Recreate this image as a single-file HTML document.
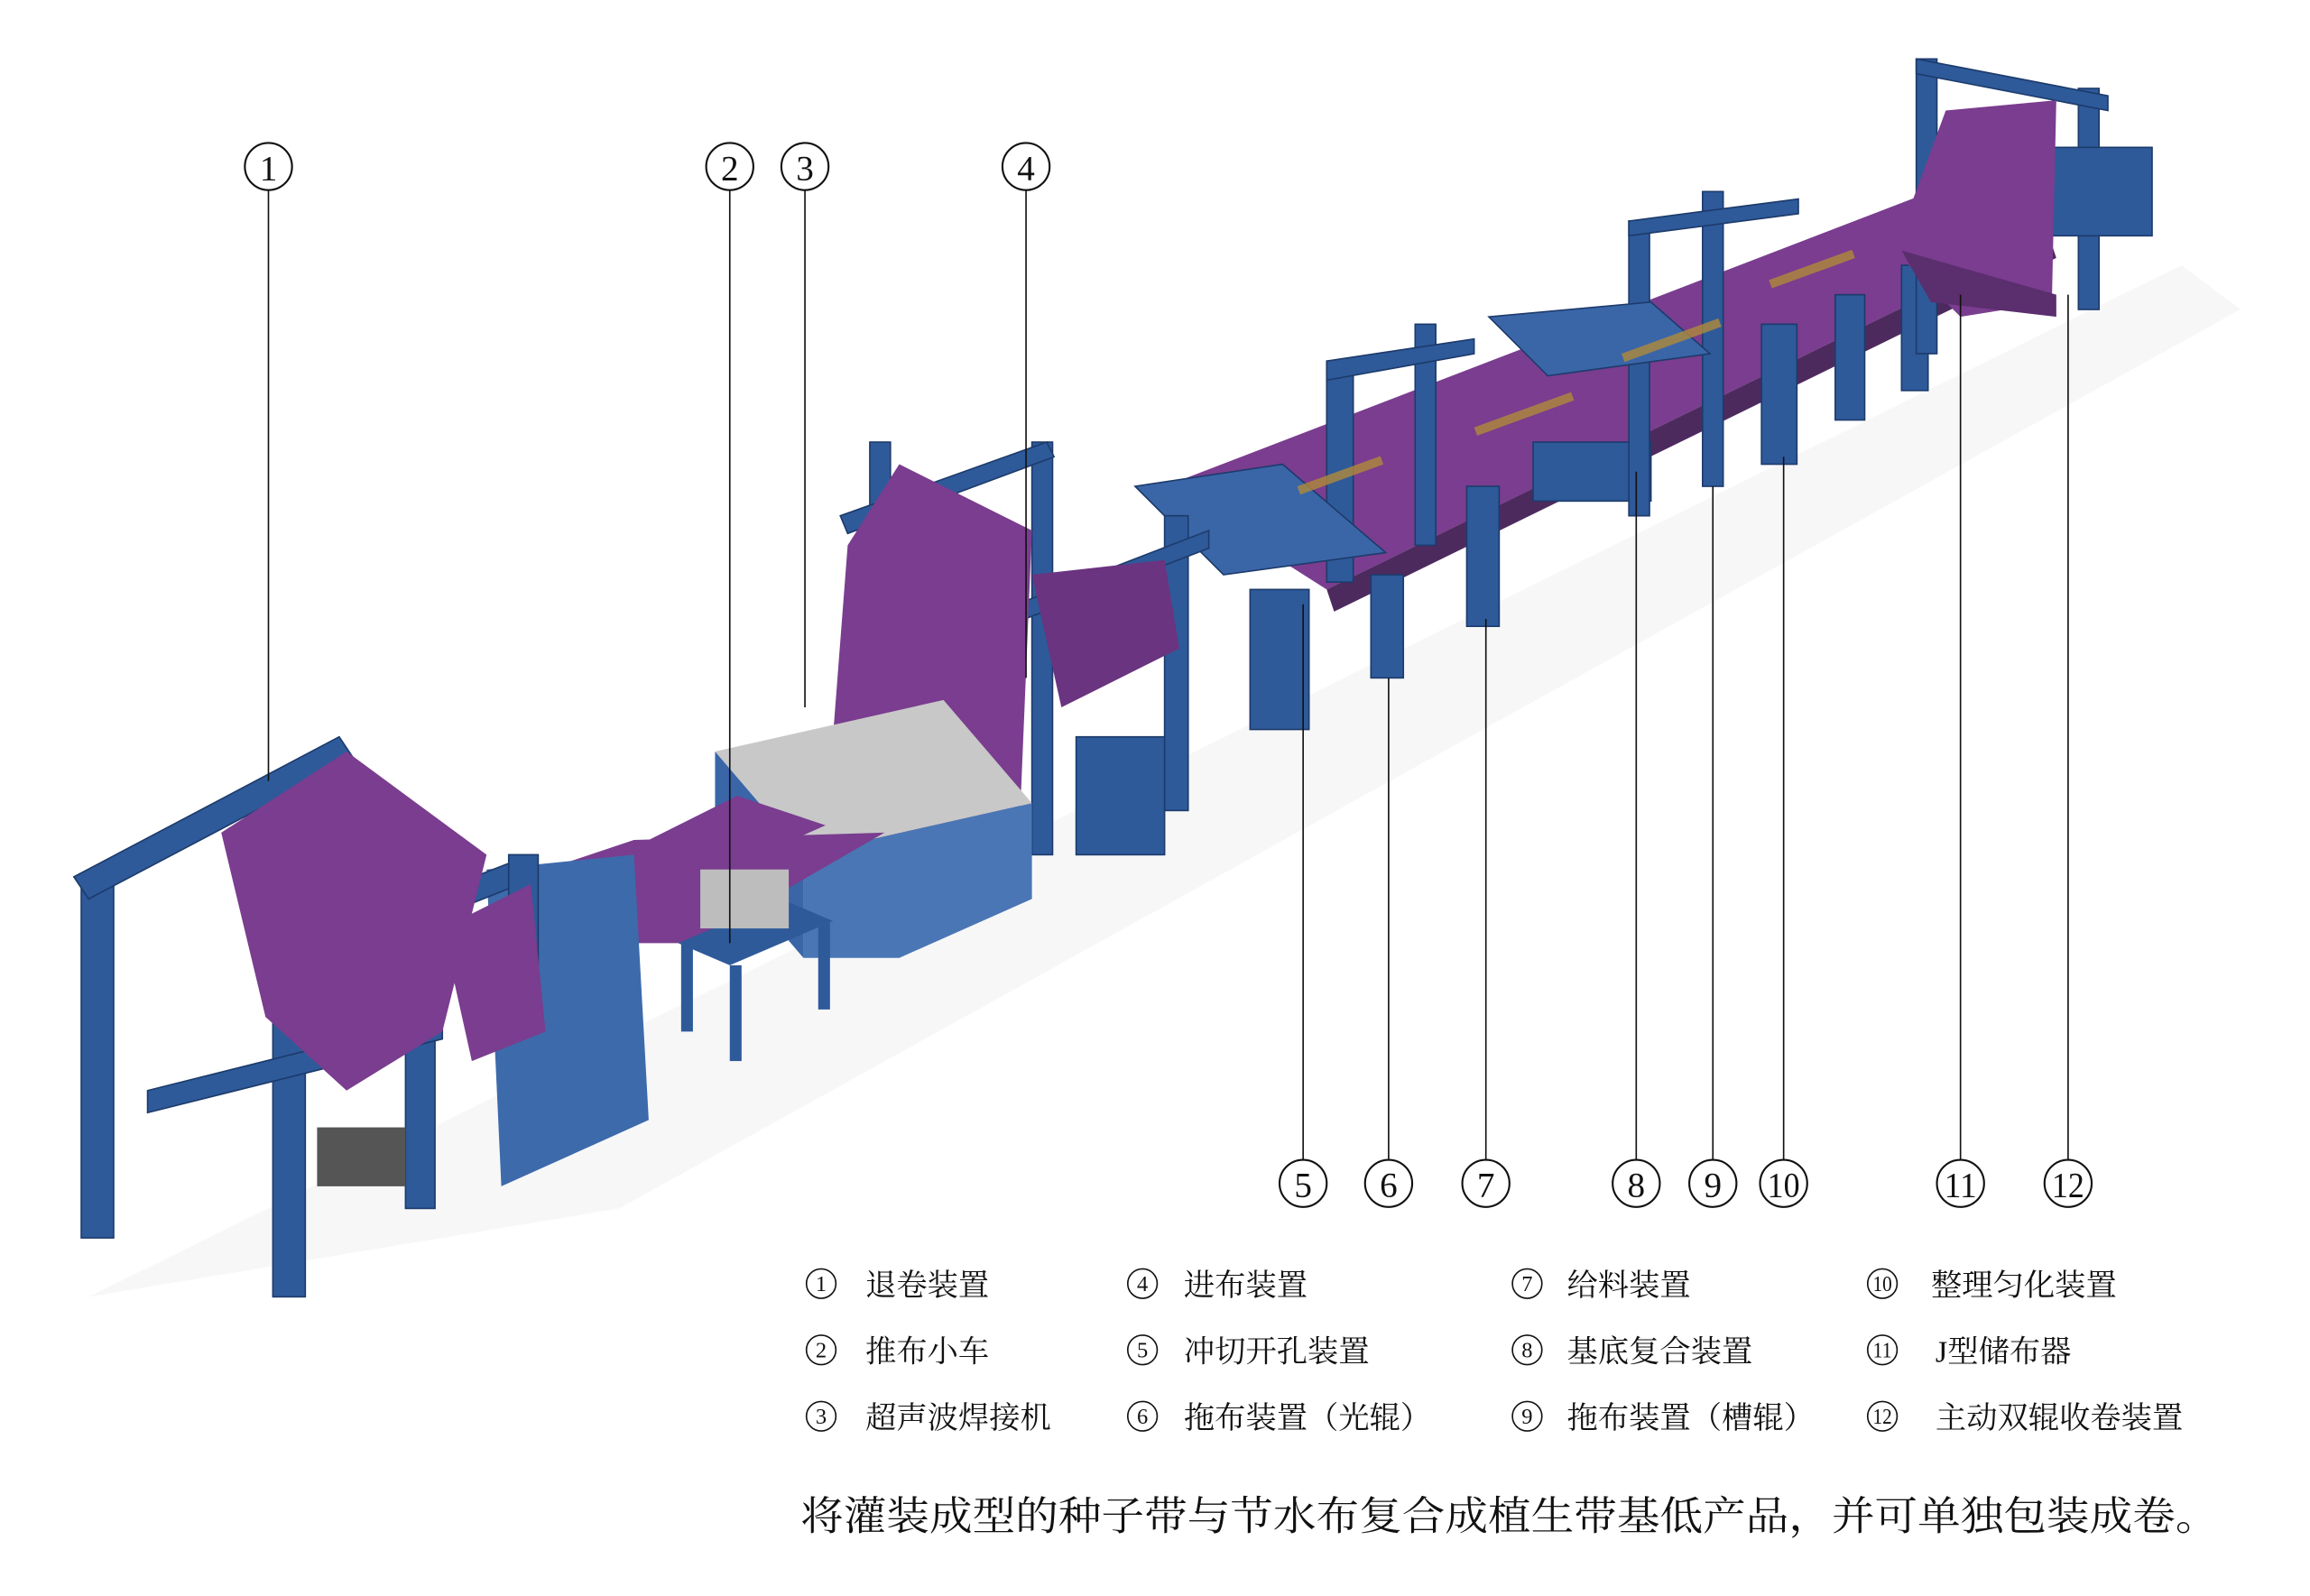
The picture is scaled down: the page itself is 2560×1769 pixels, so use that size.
<!DOCTYPE html>
<html><head><meta charset="utf-8"><style>
html,body{margin:0;padding:0;background:#fff}
svg{display:block}
text{font-family:"Liberation Serif","Noto Serif CJK SC",serif;fill:#111}
</style></head><body>
<svg width="2560" height="1769" viewBox="0 0 1567 1083" xmlns="http://www.w3.org/2000/svg">
<rect width="1567" height="1083" fill="#fff"/>
<polygon points="60,880 1480,180 1520,210 420,820" fill="#f7f7f8"/>
<polygon points="790,330 1310,130 1390,160 900,400" fill="#7a3d8f"/>
<polygon points="900,400 1390,160 1395,175 905,415" fill="#4d2a5e"/>
<g fill="#2e5a9a" stroke="#1d3b6b" stroke-width="1">
<rect x="848" y="400" width="40" height="95"/>
<rect x="930" y="390" width="22" height="70"/>
<rect x="900" y="245" width="18" height="150"/>
<rect x="960" y="220" width="14" height="150"/>
<rect x="995" y="330" width="22" height="95"/>
<rect x="1040" y="300" width="80" height="40"/>
<rect x="1105" y="150" width="14" height="200"/>
<rect x="1155" y="130" width="14" height="200"/>
<rect x="1195" y="220" width="24" height="95"/>
<rect x="1245" y="200" width="20" height="85"/>
<rect x="1290" y="180" width="18" height="85"/>
<polygon points="900,245 1000,230 1000,240 900,258"/>
<polygon points="1105,150 1220,135 1220,145 1105,160"/>
<rect x="1300" y="40" width="14" height="200"/>
<rect x="1410" y="60" width="14" height="150"/>
<polygon points="1300,40 1430,65 1430,75 1300,50"/>
<rect x="1380" y="100" width="80" height="60"/>
</g>
<polygon points="770,330 870,315 940,375 830,390" fill="#3a66a8" stroke="#1d3b6b"/>
<polygon points="1010,215 1120,205 1160,240 1050,255" fill="#3a66a8" stroke="#1d3b6b"/>
<g fill="#b08a3a" opacity="0.8">
<rect x="880" y="330" width="60" height="6" transform="rotate(-20 880 330)"/>
<rect x="1000" y="290" width="70" height="6" transform="rotate(-20 1000 290)"/>
<rect x="1100" y="240" width="70" height="6" transform="rotate(-20 1100 240)"/>
<rect x="1200" y="190" width="60" height="6" transform="rotate(-20 1200 190)"/>
</g>
<polygon points="1320,75 1395,68 1392,205 1330,215 1285,170" fill="#7a3d8f"/>
<polygon points="1290,170 1395,200 1395,215 1310,205" fill="#5b2e6e"/>
<g fill="#2e5a9a" stroke="#1d3b6b">
<rect x="590" y="300" width="14" height="250"/>
<rect x="700" y="300" width="14" height="280"/>
<rect x="790" y="350" width="16" height="200"/>
<polygon points="570,350 710,300 715,310 575,362"/>
<polygon points="690,410 820,360 820,372 690,422"/>
<rect x="730" y="500" width="60" height="80"/>
</g>
<polygon points="575,370 610,315 700,360 690,600 560,565" fill="#7a3d8f"/>
<polygon points="700,390 790,380 800,440 720,480" fill="#6a3480"/>
<polygon points="485,510 640,475 700,545 545,580" fill="#c8c8c8"/>
<polygon points="485,510 545,580 545,650 485,580" fill="#3a66a8"/>
<polygon points="545,580 700,545 700,610 610,650 545,650" fill="#4a76b5"/>
<polygon points="370,590 430,570 600,565 470,640 410,640" fill="#7a3d8f"/>
<polygon points="420,580 500,540 560,560 470,600" fill="#7a3d8f"/>
<g fill="#2e5a9a"><polygon points="460,640 530,610 565,625 495,655"/>
<rect x="462" y="640" width="8" height="60"/><rect x="495" y="655" width="8" height="65"/><rect x="555" y="625" width="8" height="60"/></g>
<rect x="475" y="590" width="60" height="40" fill="#bdbdbd"/>
<polygon points="330,590 430,580 440,760 340,805" fill="#3d6aab"/>
<g fill="#2e5a9a" stroke="#1d3b6b">
<rect x="55" y="600" width="22" height="240"/>
<rect x="185" y="650" width="22" height="230"/>
<rect x="275" y="620" width="20" height="200"/>
<polygon points="50,595 230,500 240,515 60,610"/>
<polygon points="180,650 360,580 365,595 190,665"/>
<polygon points="100,740 300,690 300,705 100,755"/>
<rect x="345" y="580" width="20" height="80"/>
</g>
<polygon points="150,565 235,510 330,580 300,700 235,740 180,690" fill="#7a3d8f"/>
<polygon points="300,630 360,600 370,700 320,720" fill="#7a3d8f"/>
<rect x="215" y="765" width="60" height="40" fill="#555"/>
<g stroke="#111" stroke-width="1" fill="none">
<line x1="182" y1="129" x2="182" y2="530"/>
<line x1="495" y1="129" x2="495" y2="640"/>
<line x1="546" y1="129" x2="546" y2="480"/>
<line x1="696" y1="129" x2="696" y2="460"/>
<line x1="884" y1="787" x2="884" y2="410"/>
<line x1="942" y1="787" x2="942" y2="460"/>
<line x1="1008" y1="787" x2="1008" y2="420"/>
<line x1="1110" y1="787" x2="1110" y2="320"/>
<line x1="1162" y1="787" x2="1162" y2="330"/>
<line x1="1210" y1="787" x2="1210" y2="310"/>
<line x1="1330" y1="787" x2="1330" y2="200"/>
<line x1="1403" y1="787" x2="1403" y2="200"/>
<g fill="#fff" stroke-width="1.3">
<circle cx="182" cy="113" r="16"/><circle cx="495" cy="113" r="16"/><circle cx="546" cy="113" r="16"/><circle cx="696" cy="113" r="16"/>
<circle cx="884" cy="803" r="16"/><circle cx="942" cy="803" r="16"/><circle cx="1008" cy="803" r="16"/><circle cx="1110" cy="803" r="16"/><circle cx="1162" cy="803" r="16"/><circle cx="1210" cy="803" r="16"/><circle cx="1330" cy="803" r="16"/><circle cx="1403" cy="803" r="16"/>
</g></g>
<g font-size="24" text-anchor="middle">
<text x="182" y="122">1</text><text x="495" y="122">2</text><text x="546" y="122">3</text><text x="696" y="122">4</text>
<text x="884" y="812">5</text><text x="942" y="812">6</text><text x="1008" y="812">7</text><text x="1110" y="812">8</text><text x="1162" y="812">9</text>
<text x="1210" y="812" textLength="22" lengthAdjust="spacingAndGlyphs">10</text><text x="1330" y="812" textLength="22" lengthAdjust="spacingAndGlyphs">11</text><text x="1403" y="812" textLength="22" lengthAdjust="spacingAndGlyphs">12</text>
</g>
<g fill="none" stroke="#111" stroke-width="1">
<circle cx="557" cy="871" r="10"/><circle cx="557" cy="916" r="10"/><circle cx="557" cy="961" r="10"/>
<circle cx="775" cy="871" r="10"/><circle cx="775" cy="916" r="10"/><circle cx="775" cy="961" r="10"/>
<circle cx="1036" cy="871" r="10"/><circle cx="1036" cy="916" r="10"/><circle cx="1036" cy="961" r="10"/>
<circle cx="1277" cy="871" r="10"/><circle cx="1277" cy="916" r="10"/><circle cx="1277" cy="961" r="10"/>
</g>
<g font-size="15" text-anchor="middle">
<text x="557" y="876">1</text><text x="557" y="921">2</text><text x="557" y="966">3</text>
<text x="775" y="876">4</text><text x="775" y="921">5</text><text x="775" y="966">6</text>
<text x="1036" y="876">7</text><text x="1036" y="921">8</text><text x="1036" y="966">9</text>
<text x="1277" y="876" textLength="13" lengthAdjust="spacingAndGlyphs">10</text><text x="1277" y="921" textLength="13" lengthAdjust="spacingAndGlyphs">11</text><text x="1277" y="966" textLength="13" lengthAdjust="spacingAndGlyphs">12</text>
</g>
<g font-size="21">
<text x="587" y="879">退卷装置</text><text x="587" y="924">推布小车</text><text x="587" y="969">超声波焊接机</text>
<text x="803" y="879">进布装置</text><text x="803" y="924">冲切开孔装置</text><text x="803" y="969">拖布装置（光辊）</text>
<text x="1063" y="879">给料装置</text><text x="1063" y="924">基底复合装置</text><text x="1063" y="969">拖布装置（槽辊）</text>
<text x="1310" y="879">整理匀化装置</text><text x="1313" y="924">J型储布器</text><text x="1313" y="969">主动双辊收卷装置</text>
</g>
<text x="543" y="1038" font-size="27" textLength="962" lengthAdjust="spacingAndGlyphs">将灌装成型的种子带与节水布复合成植生带基低产品，并可单独包装成卷。</text>
</svg>
</body></html>
